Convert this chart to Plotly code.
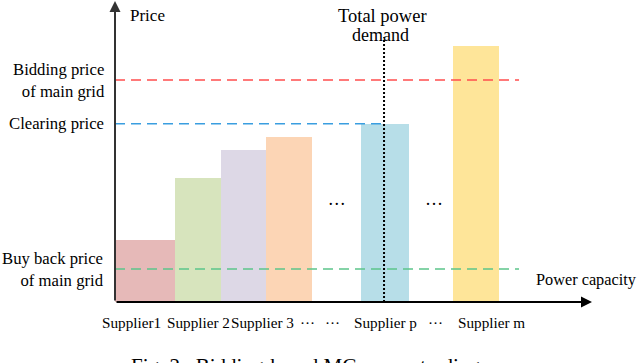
import plotly.graph_objects as go

# supplier capacity blocks (capacity units) and offer prices
suppliers = ['Supplier1', 'Supplier 2', 'Supplier 3', 'Supplier 4', 'Supplier p', 'Supplier m']
cap_start = [0.0, 12.6, 22.2, 31.7, 51.6, 70.9]
cap_end = [12.6, 22.2, 31.7, 41.3, 61.6, 80.5]
offer_price = [20.5, 41.0, 50.3, 54.6, 59.0, 84.8]
bar_colors = ['#e6b9b8', '#d7e4bd', '#ddd8e6', '#fcd5b5', '#b7dee8', '#fee599']

# reference prices
bidding_price = 73.5
clearing_price = 59.0
buyback_price = 10.9
demand = 56.4
line_end = 84.7

# category labels under the axis
label_pos = [3.4, 17.4, 31.0, 40.3, 45.7, 56.8, 67.1, 79.0]
label_text = ['Supplier1', 'Supplier 2', 'Supplier 3', '\u00b7\u00b7\u00b7', '\u00b7\u00b7\u00b7',
              'Supplier p', '\u00b7\u00b7\u00b7', 'Supplier m']
ellipsis_pos = [46.5, 66.9]
ellipsis_price = 32.1

FONT = 'Liberation Serif, Times New Roman, serif'

fig = go.Figure()

centers = [(a + b) / 2 for a, b in zip(cap_start, cap_end)]
widths = [b - a for a, b in zip(cap_start, cap_end)]
fig.add_trace(go.Bar(x=centers, y=offer_price, width=widths, marker=dict(color=bar_colors, line=dict(width=0)),
                     hoverinfo='skip', showlegend=False))

fig.add_trace(go.Scatter(x=[0, line_end], y=[bidding_price] * 2, mode='lines',
                         line=dict(color='#ff4d4d', width=1.5, dash='10px,6px'), showlegend=False))
fig.add_trace(go.Scatter(x=[0, demand], y=[clearing_price] * 2, mode='lines',
                         line=dict(color='#3a9ee0', width=1.5, dash='10px,6px'), showlegend=False))
fig.add_trace(go.Scatter(x=[0, line_end], y=[buyback_price] * 2, mode='lines',
                         line=dict(color='#5cc58a', width=1.5, dash='10px,6px'), showlegend=False))
fig.add_trace(go.Scatter(x=[demand, demand], y=[0, 87.7], mode='lines',
                         line=dict(color='black', width=2, dash='2px,2px'), showlegend=False))

fig.add_trace(go.Scatter(x=ellipsis_pos, y=[ellipsis_price] * 2, mode='text', text=['\u00b7\u00b7\u00b7'] * 2,
                         textfont=dict(family=FONT, size=18, color='black'), showlegend=False))

ann = []
# axes with arrows
ann.append(dict(x=0, y=99.7, ax=0, ay=0, xref='x', yref='y', axref='x', ayref='y', text='',
                showarrow=True, arrowhead=2, arrowsize=1.1, arrowwidth=2, arrowcolor='#333333'))
ann.append(dict(x=100, y=0, ax=0, ay=0, xref='x', yref='y', axref='x', ayref='y', text='',
                showarrow=True, arrowhead=2, arrowsize=1.1, arrowwidth=2, arrowcolor='black'))

txt = dict(family=FONT, size=16.7, color='black')
ann.append(dict(x=2.7, y=95, xref='x', yref='y', text='Price', showarrow=False, xanchor='left',
                font=dict(family=FONT, size=17, color='black')))
ann.append(dict(x=56.1, y=94.7, xref='x', yref='y', text='Total power', showarrow=False,
                font=dict(family=FONT, size=18.5, color='black')))
ann.append(dict(x=55.7, y=88.4, xref='x', yref='y', text='demand', showarrow=False,
                font=dict(family=FONT, size=18, color='black')))
ann.append(dict(x=87.8, y=7.3, xref='x', yref='y', text='Power capacity', showarrow=False, xanchor='left',
                font=dict(family=FONT, size=16.3, color='black')))
ann.append(dict(x=0, y=bidding_price, xref='x', yref='y', xshift=-8, text='Bidding price<br>of main grid',
                showarrow=False, xanchor='right', align='right', font=txt))
ann.append(dict(x=0, y=clearing_price, xref='x', yref='y', xshift=-9, text='Clearing price',
                showarrow=False, xanchor='right', align='right', font=txt))
ann.append(dict(x=0, y=buyback_price, xref='x', yref='y', xshift=-9, text='Buy back price<br>of main grid',
                showarrow=False, xanchor='right', align='right', font=txt))

for p, t in zip(label_pos, label_text):
    ann.append(dict(x=p, y=0, xref='x', yref='y', yshift=-20, text=t, showarrow=False,
                    font=dict(family=FONT, size=15.2, color='black')))

# caption sits mostly below the visible page, as in the source
ann.append(dict(x=0.40, y=-0.212, xref='paper', yref='paper', yanchor='middle',
                text='Fig. 2.  Bidding-based MG power trading',
                showarrow=False, font=dict(family=FONT, size=21, color='black')))

fig.update_layout(
    width=640, height=363,
    margin=dict(l=115, r=48, t=0, b=61),
    paper_bgcolor='white', plot_bgcolor='white',
    xaxis=dict(range=[0, 100], visible=False),
    yaxis=dict(range=[0, 100], visible=False),
    annotations=ann,
    bargap=0,
)

# drop the default body margin so the figure fills the window
fig.write_html("out.html", config={'displayModeBar': False},
               post_script="document.body.style.margin='0';")
